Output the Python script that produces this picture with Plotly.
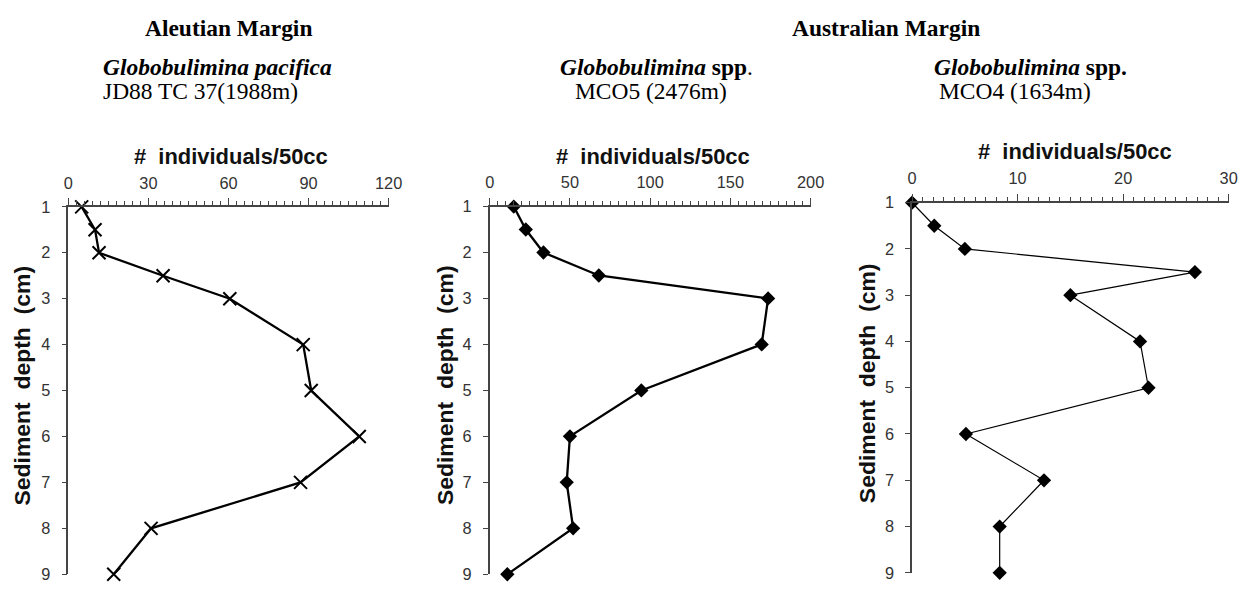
import plotly.graph_objects as go

# ---------------- data ----------------
depth_cm = [1, 1.5, 2, 2.5, 3, 4, 5, 6, 7, 8, 9]

aleutian_pacifica = [5, 10, 11.5, 35.5, 60.5, 88, 91, 109, 87, 31, 17]
australia_mco5 = [15, 22.5, 33.5, 68, 173.5, 169.5, 94.5, 50, 48, 52, 11]
australia_mco4 = [0, 2.1, 5, 26.8, 15, 21.6, 22.4, 5.1, 12.5, 8.3, 8.3]

x_ranges = [[0, 120], [0, 200], [0, 30]]
x_dticks = [30, 50, 10]
x_minor = [3, 5, 1]
y_ticks = [1, 2, 3, 4, 5, 6, 7, 8, 9]

region_titles = ["Aleutian Margin", "Australian Margin"]
species_titles = [
    "<b><i>Globobulimina pacifica</i></b>",
    "<b><i>Globobulimina</i> spp</b>.",
    "<b><i>Globobulimina</i> spp.</b>",
]
core_titles = ["JD88 TC 37(1988m)", "MCO5 (2476m)", "MCO4 (1634m)"]
x_title = "#\u00a0\u00a0individuals/50cc"
y_title = "Sediment\u00a0\u00a0depth\u00a0\u00a0(cm)"

# ---------------- layout geometry ----------------
W, H = 1244, 592
SX, OX, SY, OY = 0.987, 2.5, 0.99, 4.0
FS = 1.02

def fx(x):
    return (x - OX) / SX
def fy(y):
    return (y - OY) / SY
def px(x):
    return min(max(fx(x) / W, 0), 1)
def py(y, ymax=None):
    v = fy(y)
    if ymax is not None:
        v = min(v, ymax)
    return min(max(1 - v / H, 0), 1)

panels = [
    dict(x0=66, x1=387, ytop=206, ybot=585, ymax=583),
    dict(x0=488.3, x1=810, ytop=205.7, ybot=585, ymax=583),
    dict(x0=911.7, x1=1229, ytop=201.7, ybot=583.3, ymax=581.5),
]

series = [aleutian_pacifica, australia_mco5, australia_mco4]
symbols = ["x-thin", "diamond", "diamond"]
line_widths = [2.3, 2.3, 1.2]

fig = go.Figure()
serif = "Liberation Serif, Times New Roman, serif"
sans = "Liberation Sans, Arial, Helvetica, sans-serif"

for i, (vals, p) in enumerate(zip(series, panels)):
    xa = "x" if i == 0 else f"x{i+1}"
    ya = "y" if i == 0 else f"y{i+1}"
    if symbols[i] == "x-thin":
        marker = dict(symbol="x-thin", size=13, color="black",
                      line=dict(color="black", width=2))
    else:
        marker = dict(symbol="diamond", size=11, color="black",
                      line=dict(color="black", width=0))
    fig.add_trace(go.Scatter(
        x=vals, y=depth_cm, mode="lines+markers",
        line=dict(color="black", width=line_widths[i]),
        marker=marker, xaxis=xa, yaxis=ya, cliponaxis=False,
        showlegend=False, hoverinfo="x+y",
    ))
    xkey = "xaxis" if i == 0 else f"xaxis{i+1}"
    ykey = "yaxis" if i == 0 else f"yaxis{i+1}"
    fig.update_layout(**{
        xkey: dict(
            domain=[px(p["x0"]), px(p["x1"])], anchor=ya, side="top",
            range=x_ranges[i], dtick=x_dticks[i], tick0=0,
            showline=True, linecolor="#444", linewidth=1.5,
            ticks="outside", ticklen=7, tickwidth=1.3, tickcolor="#444",
            minor=dict(dtick=x_minor[i], tick0=0, ticks="outside",
                       ticklen=4, tickwidth=1, tickcolor="#444"),
            showgrid=False, zeroline=False,
            tickfont=dict(family=sans, size=16 * FS, color="#333"),
            ticklabelstandoff=3,
        ),
        ykey: dict(
            domain=[py(p["ybot"], p["ymax"]), py(p["ytop"])], anchor=xa,
            range=[9, 1], tickvals=y_ticks,
            showline=True, linecolor="#444", linewidth=1.5,
            ticks="outside", ticklen=5, tickwidth=1.3, tickcolor="#444",
            showgrid=False, zeroline=False,
            tickfont=dict(family=sans, size=16 * FS, color="#333"),
            ticklabelstandoff=8,
        ),
    })

annotations = []
def add_text(text, x, y, size, family, angle=0, color="black"):
    annotations.append(dict(
        text=text, x=px(x), y=py(y), xref="paper", yref="paper",
        xanchor="center", yanchor="middle", showarrow=False,
        textangle=angle, font=dict(family=family, size=size * FS, color=color)))

add_text(f"<b>{region_titles[0]}</b>", 227, 23, 23, serif)
add_text(f"<b>{region_titles[1]}</b>", 886, 23, 23, serif)
species_x = [215, 656, 1030]
core_x = [198, 650, 1015]
for i in range(3):
    add_text(species_titles[i], species_x[i], 63, 23, serif)
    add_text(core_titles[i], core_x[i], 88, 23, serif)
xt_pos = [(229.5, 155), (651.5, 155), (1075, 150)]
yt_pos = [(20, 388), (443.5, 388), (866.5, 386)]
for i in range(3):
    add_text(f"<b>{x_title}</b>", xt_pos[i][0], xt_pos[i][1], 21.5, sans, color="#111")
    add_text(f"<b>{y_title}</b>", yt_pos[i][0], yt_pos[i][1], 22.5, sans, angle=-90, color="#111")

fig.update_layout(
    width=W, height=H, margin=dict(l=0, r=0, t=0, b=0),
    paper_bgcolor="white", plot_bgcolor="white",
    annotations=annotations,
)

pin_js = (
    "document.documentElement.style.margin='0';"
    "document.documentElement.style.overflow='hidden';"
    "document.body.style.margin='0';"
    "document.body.style.overflow='hidden';"
    "var d=document.getElementById('{plot_id}');"
    "d.style.position='fixed';d.style.left='0px';d.style.top='0px';"
)

fig.write_html(
    "out.html",
    config={"responsive": False, "displayModeBar": False},
    post_script=pin_js,
)
